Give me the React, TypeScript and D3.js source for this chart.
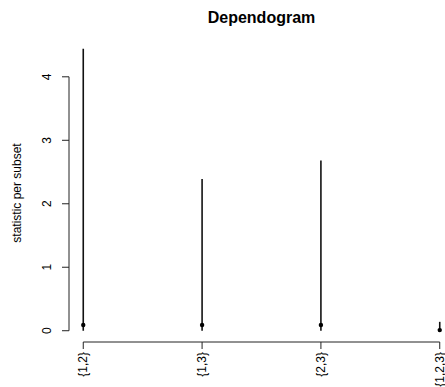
import React from "react";
import * as d3 from "d3";

const subsets = ["{1,2}", "{1,3}", "{2,3}", "{1,2,3}"];
const statistics = [4.44, 2.39, 2.68, 0.14];
const criticalValues = [0.09, 0.09, 0.09, 0.01];
const yTicks = [0, 1, 2, 3, 4];

const W = 445;
const H = 387;
const FONT = "'Liberation Sans', Arial, sans-serif";

export default function App() {
  const n = subsets.length;
  const yMax = d3.max(statistics) as number;
  const xPad = (n - 1) * 0.04;
  const yPad = yMax * 0.04;
  const x = d3.scaleLinear().domain([1 - xPad, n + xPad]).range([69, 454]);
  const y = d3.scaleLinear().domain([0 - yPad, yMax + yPad]).range([342, 37.6]);

  const axisY = 342;
  const axisX = 69;

  return (
    <svg
      width={W}
      height={H}
      style={{ position: "absolute", left: 0, top: 0, background: "#fff" }}
      fontFamily={FONT}
    >
      <rect x={0} y={0} width={W} height={H} fill="#fff" />
      <text x={261.5} y={23} textAnchor="middle" fontSize={16} fontWeight="bold" fill="#000">
        Dependogram
      </text>

      {/* y axis */}
      <line x1={axisX} x2={axisX} y1={y(yTicks[0])} y2={y(yTicks[yTicks.length - 1])} stroke="#222" strokeWidth={1} />
      {yTicks.map((t) => (
        <g key={t}>
          <line x1={axisX - 7} x2={axisX} y1={y(t)} y2={y(t)} stroke="#222" strokeWidth={1} />
          <text
            transform={`translate(${51},${y(t)}) rotate(-90)`}
            textAnchor="middle"
            fontSize={12}
            fill="#000"
          >
            {t}
          </text>
        </g>
      ))}
      <text transform={`translate(21,193) rotate(-90)`} textAnchor="middle" fontSize={12} fill="#000">
        statistic per subset
      </text>

      {/* x axis */}
      <line x1={x(1)} x2={x(n)} y1={axisY} y2={axisY} stroke="#222" strokeWidth={1} />
      {subsets.map((s, i) => (
        <g key={s}>
          <line x1={x(i + 1)} x2={x(i + 1)} y1={axisY} y2={axisY + 7} stroke="#222" strokeWidth={1} />
          <text
            transform={`translate(${x(i + 1)},${352}) rotate(-90)`}
            textAnchor="end"
            dy="0.35em"
            fontSize={12}
            fill="#000"
          >
            {s}
          </text>
        </g>
      ))}

      {/* statistic segments */}
      {statistics.map((v, i) => (
        <line
          key={"s" + i}
          x1={x(i + 1)}
          x2={x(i + 1)}
          y1={y(0)}
          y2={y(v)}
          stroke="#111"
          strokeWidth={1.6}
        />
      ))}

      {/* critical values */}
      {criticalValues.map((v, i) => (
        <circle key={"c" + i} cx={x(i + 1)} cy={y(v)} r={2.2} fill="#000" />
      ))}
    </svg>
  );
}
